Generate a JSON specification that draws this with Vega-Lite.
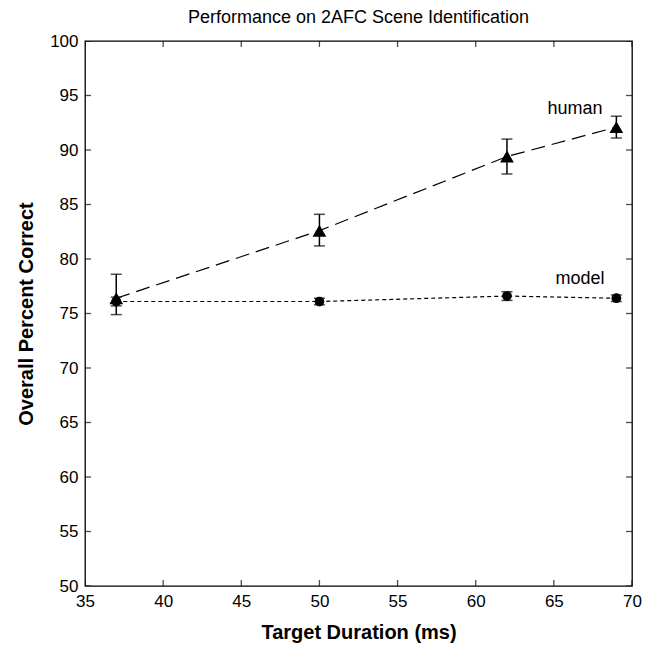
{
  "$schema": "https://vega.github.io/schema/vega-lite/v6.json",
  "width": 547,
  "height": 545,
  "autosize": {"type": "none"},
  "padding": {"left": 85, "top": 41, "right": 20, "bottom": 65},
  "background": "white",
  "title": {"text": "Performance on 2AFC Scene Identification", "font": "Liberation Sans", "fontSize": 18, "fontWeight": "normal", "color": "black", "offset": 5},
  "config": {
    "view": {"stroke": "black", "strokeWidth": 1.3},
    "axis": {"labelFont": "Liberation Sans", "labelFontSize": 17, "labelColor": "black", "titleFont": "Liberation Sans", "titleFontSize": 20, "titleFontWeight": "bold", "titleColor": "black", "domain": false, "ticks": false, "grid": false, "labelFlush": false, "labelOverlap": false}
  },
  "datasets": {
    "pts": [
      {"series": "human", "duration": 37, "pct": 76.4, "lo": 74.9, "hi": 78.6},
      {"series": "human", "duration": 50, "pct": 82.6, "lo": 81.2, "hi": 84.1},
      {"series": "human", "duration": 62, "pct": 89.4, "lo": 87.8, "hi": 91.0},
      {"series": "human", "duration": 69, "pct": 92.1, "lo": 91.1, "hi": 93.1},
      {"series": "model", "duration": 37, "pct": 76.1, "lo": 75.7, "hi": 76.5},
      {"series": "model", "duration": 50, "pct": 76.1, "lo": 75.8, "hi": 76.4},
      {"series": "model", "duration": 62, "pct": 76.6, "lo": 76.2, "hi": 77.0},
      {"series": "model", "duration": 69, "pct": 76.4, "lo": 76.1, "hi": 76.7}
    ],
    "labels": [
      {"label": "human", "duration": 66.35, "pct": 93.3},
      {"label": "model", "duration": 66.67, "pct": 77.7}
    ],
    "xticks": [{"t": 35}, {"t": 40}, {"t": 45}, {"t": 50}, {"t": 55}, {"t": 60}, {"t": 65}, {"t": 70}],
    "yticks": [{"t": 50}, {"t": 55}, {"t": 60}, {"t": 65}, {"t": 70}, {"t": 75}, {"t": 80}, {"t": 85}, {"t": 90}, {"t": 95}, {"t": 100}]
  },
  "layer": [
    {
      "data": {"name": "pts"},
      "transform": [{"filter": "datum.series === 'human'"}],
      "mark": {"type": "line", "color": "black", "strokeWidth": 1.2, "strokeDash": [14, 7]},
      "encoding": {
        "x": {"field": "duration", "type": "quantitative", "scale": {"domain": [35, 70], "nice": false, "zero": false}, "axis": {"values": [35, 40, 45, 50, 55, 60, 65, 70], "title": "Target Duration (ms)", "labelPadding": 7, "titlePadding": 13}},
        "y": {"field": "pct", "type": "quantitative", "scale": {"domain": [50, 100], "nice": false, "zero": false}, "axis": {"values": [50, 55, 60, 65, 70, 75, 80, 85, 90, 95, 100], "title": "Overall Percent Correct", "labelPadding": 7, "titlePadding": 13}}
      }
    },
    {
      "data": {"name": "xticks"},
      "mark": {"type": "tick", "orient": "vertical", "color": "black", "size": 12, "thickness": 1.3, "clip": true},
      "encoding": {
        "x": {"field": "t", "type": "quantitative", "axis": null},
        "y": {"datum": 50, "type": "quantitative", "axis": null}
      }
    },
    {
      "data": {"name": "xticks"},
      "mark": {"type": "tick", "orient": "vertical", "color": "black", "size": 12, "thickness": 1.3, "clip": true},
      "encoding": {
        "x": {"field": "t", "type": "quantitative", "axis": null},
        "y": {"datum": 100, "type": "quantitative", "axis": null}
      }
    },
    {
      "data": {"name": "yticks"},
      "mark": {"type": "tick", "orient": "horizontal", "color": "black", "size": 12, "thickness": 1.3, "clip": true},
      "encoding": {
        "x": {"datum": 35, "type": "quantitative", "axis": null},
        "y": {"field": "t", "type": "quantitative", "axis": null}
      }
    },
    {
      "data": {"name": "yticks"},
      "mark": {"type": "tick", "orient": "horizontal", "color": "black", "size": 12, "thickness": 1.3, "clip": true},
      "encoding": {
        "x": {"datum": 70, "type": "quantitative", "axis": null},
        "y": {"field": "t", "type": "quantitative", "axis": null}
      }
    },
    {
      "data": {"name": "pts"},
      "transform": [{"filter": "datum.series === 'model'"}],
      "mark": {"type": "line", "color": "black", "strokeWidth": 1.2, "strokeDash": [4, 3]},
      "encoding": {
        "x": {"field": "duration", "type": "quantitative", "axis": null},
        "y": {"field": "pct", "type": "quantitative", "axis": null}
      }
    },
    {
      "data": {"name": "pts"},
      "mark": {"type": "rule", "color": "black", "strokeWidth": 1.5},
      "encoding": {
        "x": {"field": "duration", "type": "quantitative", "axis": null},
        "y": {"field": "lo", "type": "quantitative", "axis": null},
        "y2": {"field": "hi"}
      }
    },
    {
      "data": {"name": "pts"},
      "mark": {"type": "tick", "orient": "horizontal", "color": "black", "size": 11, "thickness": 1.5},
      "encoding": {
        "x": {"field": "duration", "type": "quantitative", "axis": null},
        "y": {"field": "lo", "type": "quantitative", "axis": null}
      }
    },
    {
      "data": {"name": "pts"},
      "mark": {"type": "tick", "orient": "horizontal", "color": "black", "size": 11, "thickness": 1.5},
      "encoding": {
        "x": {"field": "duration", "type": "quantitative", "axis": null},
        "y": {"field": "hi", "type": "quantitative", "axis": null}
      }
    },
    {
      "data": {"name": "pts"},
      "transform": [{"filter": "datum.series === 'human'"}],
      "mark": {"type": "point", "shape": "triangle-up", "filled": true, "color": "black", "size": 190, "opacity": 1},
      "encoding": {
        "x": {"field": "duration", "type": "quantitative", "axis": null},
        "y": {"field": "pct", "type": "quantitative", "axis": null}
      }
    },
    {
      "data": {"name": "pts"},
      "transform": [{"filter": "datum.series === 'model'"}],
      "mark": {"type": "point", "shape": "circle", "filled": true, "color": "black", "size": 95, "opacity": 1},
      "encoding": {
        "x": {"field": "duration", "type": "quantitative", "axis": null},
        "y": {"field": "pct", "type": "quantitative", "axis": null}
      }
    },
    {
      "data": {"name": "labels"},
      "mark": {"type": "text", "font": "Liberation Sans", "fontSize": 18, "color": "black", "align": "center", "baseline": "alphabetic"},
      "encoding": {
        "x": {"field": "duration", "type": "quantitative", "axis": null},
        "y": {"field": "pct", "type": "quantitative", "axis": null},
        "text": {"field": "label"}
      }
    }
  ],
  "resolve": {"scale": {"x": "shared", "y": "shared"}, "axis": {"x": "independent", "y": "independent"}}
}
